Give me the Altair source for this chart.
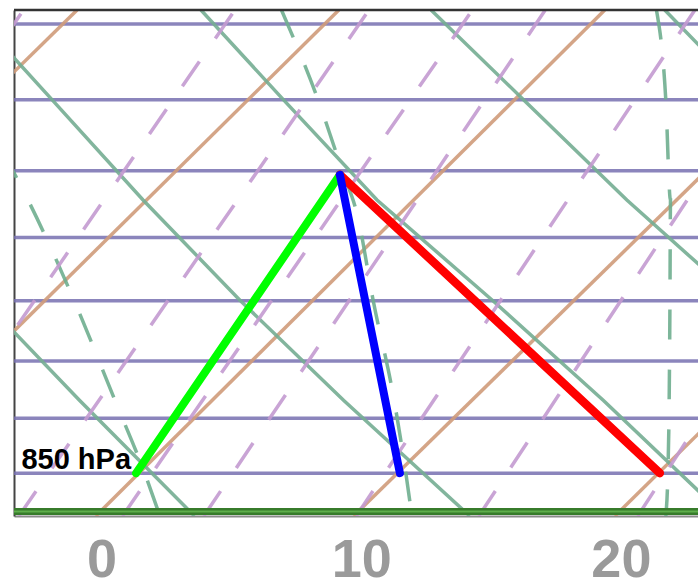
import altair as alt
import pandas as pd

# ---- axes / frame values (skewed temperature in deg C, pressure in hPa) ----
X_MIN, X_MAX = -3.37, 22.97
P_TOP, P_BOTTOM = 491.1, 890.6
P_SURFACE = 886.3
x_tick_values = [0, 10, 20]

# ---- isobars ----
isobar_p = [850, 800, 750, 700, 650, 600, 550, 500]

# ---- isotherms (straight): x at bottom / top of the diagram ----
isotherm_x_bottom = [-20.81, -10.58, -0.22, 9.71, 19.77]
isotherm_x_top = [-0.94, 9.14, 19.38, 29.62, 39.54]

# ---- mixing-ratio lines (straight, dashed) ----
mixing_x_bottom = [-16.44, -8.30, -3.18, 0.81, 3.94, 9.81, 14.53, 20.65]
mixing_x_top = [-3.00, 5.14, 10.30, 14.28, 17.09, 22.85, 27.38, 33.31]

# ---- dry adiabats (solid green), x read at these pressures ----
dry_p = [491.1, 550.1, 621.5, 699.5, 784.2, 890.6]
dry_x = [
    [-14.57, -11.45, -7.99, -4.54, -0.84, 3.58],
    [-5.04, -1.90, 1.60, 5.33, 9.33, 14.18],
    [3.83, 7.01, 10.61, 15.05, 19.33, 24.00],
    [12.69, 16.26, 20.23, 24.54, 28.78, 33.59],
    [21.69, 25.04, 28.89, 33.05, 37.30, 42.10],
]

# ---- moist adiabats (dashed green) ----
moist_p = [
    [550.1, 621.5, 699.5, 784.2, 850, 890.6],
    [491.1, 550.1, 599.4, 634.3, 699.5, 784.2, 850, 890.6],
    [491.1, 550.1, 621.5, 699.5, 784.2, 850, 890.6],
]
moist_x = [
    [-4.99, -2.83, -1.06, 0.52, 1.66, 2.25],
    [6.93, 8.34, 9.26, 9.87, 10.46, 11.27, 11.72, 11.95],
    [21.37, 21.73, 21.91, 21.89, 21.86, 21.81, 21.73],
]

# ---- parcel profile ----
profile_p = [850, 603]
dewpoint_x = [1.33, 9.18]
wetbulb_x = [11.49, 9.18]
temperature_x = [21.50, 9.18]
label_text = "850 hPa"

# ---------------- build tables ----------------
def straight(xb, xt):
    rows = []
    for i, (a, b) in enumerate(zip(xb, xt)):
        rows.append({"id": i, "seq": 0, "x": a, "p": P_BOTTOM})
        rows.append({"id": i, "seq": 1, "x": b, "p": P_TOP})
    return pd.DataFrame(rows)

def curves(ps, xs):
    rows = []
    for i, (pl, xl) in enumerate(zip(ps, xs)):
        for j, (pp, xx) in enumerate(zip(pl, xl)):
            rows.append({"id": i, "seq": j, "x": xx, "p": pp})
    return pd.DataFrame(rows)

iso_t = straight(isotherm_x_bottom, isotherm_x_top)
mix = straight(mixing_x_bottom, mixing_x_top)
dry = curves([dry_p] * len(dry_x), dry_x)
moist = curves(moist_p, moist_x)

def prof(xs):
    return pd.DataFrame({"x": xs, "p": profile_p, "seq": [0, 1]})

xs = alt.Scale(domain=[X_MIN, X_MAX], nice=False, zero=False)
ys = alt.Scale(type="pow", exponent=0.286, domain=[P_TOP, P_BOTTOM],
               reverse=True, nice=False, zero=False)
x_axis = alt.Axis(values=x_tick_values, title=None, grid=False, ticks=False,
                  tickSize=0, domain=True, domainColor="#8a8a8a", domainWidth=2,
                  labelFont="Liberation Sans", labelFontSize=54,
                  labelFontWeight="bold", labelColor="#9a9a9a",
                  labelBaseline="alphabetic", labelPadding=60)
y_axis = alt.Axis(title=None, grid=False, ticks=False, labels=False,
                  domain=True, domainColor="#444444", domainWidth=2)

X = alt.X("x:Q", scale=xs, axis=x_axis)
Y = alt.Y("p:Q", scale=ys, axis=y_axis)

isobars = alt.Chart(pd.DataFrame({"p": isobar_p})).mark_rule(
    color="#7770b0", strokeWidth=3.5, opacity=0.85).encode(y=Y)

isotherms = alt.Chart(iso_t).mark_line(
    color="#cf9b7a", strokeWidth=3.5, opacity=0.9, clip=True).encode(
    x=X, y=Y, detail="id:N", order="seq:Q")

dry_l = alt.Chart(dry).mark_line(
    color="#74ad92", strokeWidth=3.5, opacity=0.9, clip=True).encode(
    x=X, y=Y, detail="id:N", order="seq:Q")

moist_l = alt.Chart(moist).mark_line(
    color="#6fae8f", strokeWidth=3.5, opacity=0.9, strokeDash=[30, 30],
    clip=True, interpolate="monotone").encode(
    x=X, y=Y, detail="id:N", order="seq:Q")

mix_l = alt.Chart(mix).mark_line(
    color="#c39ad0", strokeWidth=3.5, opacity=0.9, strokeDash=[30, 28],
    clip=True).encode(x=X, y=Y, detail="id:N", order="seq:Q")

surface_outer = alt.Chart(pd.DataFrame({"p": [P_SURFACE]})).mark_rule(
    color="#377b2b", strokeWidth=7).encode(y=Y)
surface_inner = alt.Chart(pd.DataFrame({"p": [P_SURFACE]})).mark_rule(
    color="#5fae4c", strokeWidth=2).encode(y=Y)
top_border = alt.Chart(pd.DataFrame({"p": [P_TOP]})).mark_rule(
    color="#333333", strokeWidth=2.5).encode(y=Y)

green_l = alt.Chart(prof(dewpoint_x)).mark_line(
    color="#00ff00", strokeWidth=8, strokeCap="round").encode(x=X, y=Y, order="seq:Q")
red_l = alt.Chart(prof(temperature_x)).mark_line(
    color="#ff0000", strokeWidth=8.5, strokeCap="round").encode(x=X, y=Y, order="seq:Q")
blue_l = alt.Chart(prof(wetbulb_x)).mark_line(
    color="#0000ff", strokeWidth=8, strokeCap="round").encode(x=X, y=Y, order="seq:Q")

label = alt.Chart(pd.DataFrame({"x": [dewpoint_x[0]], "p": [profile_p[0]],
                                "t": [label_text]})).mark_text(
    align="right", baseline="alphabetic", dx=-5, dy=-4, fontSize=29,
    fontWeight="bold", font="Liberation Sans", color="black").encode(
    x=X, y=Y, text="t:N")

chart = alt.layer(
    isobars, isotherms, dry_l, moist_l, mix_l,
    surface_outer, surface_inner, top_border,
    green_l, red_l, blue_l, label,
).properties(
    width=684, height=506,
    padding={"left": 14, "top": 10, "right": 0, "bottom": 66},
    autosize=alt.AutoSizeParams(type="none"),
    background="white",
).configure_view(stroke=None)

chart.save("out.html", embed_options={"renderer": "svg", "actions": False})
